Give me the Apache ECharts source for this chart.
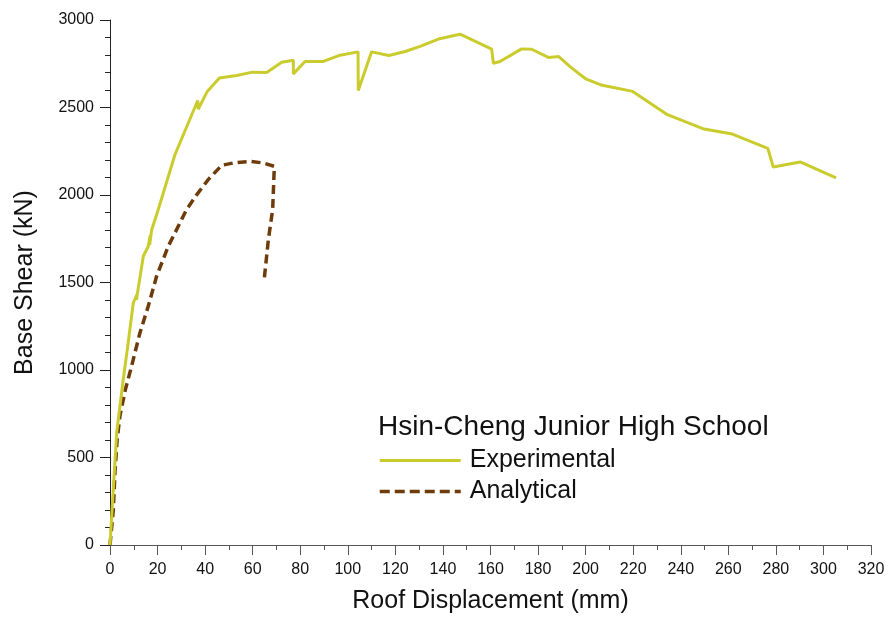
<!DOCTYPE html>
<html>
<head>
<meta charset="utf-8">
<script src="https://cdn.jsdelivr.net/npm/echarts@6/dist/echarts.min.js"></script>
<style>html,body{margin:0;padding:0;background:#fff}#c{width:890px;height:619px}</style>
</head>
<body>
<div id="c"></div>
<script>
const chartTitle = 'Hsin-Cheng Junior High School';
const seriesNames = ['Experimental', 'Analytical'];
const xTickValues = [0,20,40,60,80,100,120,140,160,180,200,220,240,260,280,300,320];
const yTickValues = [0,500,1000,1500,2000,2500,3000];
// [roof displacement (mm), base shear (kN)]
const experimental = [
  [0,0],[2.8,640],[5.6,950],[7.4,1130],[9.8,1384],[11.3,1430],[11.1,1400],[14.0,1650],
  [16.1,1707],[16.9,1770],[16.7,1715],[17.5,1800],[20.3,1917],[27.3,2230],[36.9,2540],
  [37.1,2490],[40.9,2592],[46,2668],[53.3,2683],[59.9,2702],[65.9,2700],[72.2,2759],
  [77.1,2770],[77.1,2692],[82,2763],[89.7,2763],[96.2,2797],[104.3,2818],[104.4,2597],
  [110,2818],[117.3,2797],[124.1,2820],[130.4,2849],[138.1,2891],[147.2,2919],[160.5,2833],
  [161.2,2753],[164,2763],[173.1,2835],[177.3,2833],[184.3,2786],[188.7,2791],[193.8,2729],
  [200,2664],[207,2627],[219.8,2592],[234.4,2459],[249.8,2377],[261.7,2348],[276.6,2266],
  [278.9,2160],[290.2,2189],[305.3,2098]
];
const analytical = [
  [0,0],[1.4,200],[2.1,420],[3,600],[4.2,740],[6.5,890],[9.1,1023],[12.6,1213],[16.1,1365],
  [19.6,1536],[24.5,1707],[29.4,1840],[32.2,1917],[36.5,2002],[41.3,2088],[47,2170],
  [51.9,2183],[58.9,2192],[64.5,2183],[69.1,2164],[68.4,1917],[66.6,1746],[64.8,1512]
];

const FONT = '"Liberation Sans", Arial, sans-serif';
const chart = echarts.init(document.getElementById('c'), null, {renderer:'canvas'});
chart.setOption({
  animation:false,
  backgroundColor:'#fff',
  textStyle:{fontFamily:FONT},
  title:{text:chartTitle, left:378, top:413, padding:0,
    textStyle:{fontSize:28, fontWeight:'normal', color:'#111', fontFamily:FONT}},
  legend:{orient:'vertical', left:378, top:445, padding:0, itemWidth:81, itemHeight:14, itemGap:0,
    itemStyle:{opacity:0},
    textStyle:{fontSize:25, lineHeight:31, color:'#111', padding:[0,0,0,4], fontFamily:FONT},
    data:[
      {name:seriesNames[0], lineStyle:{width:3}},
      {name:seriesNames[1], lineStyle:{width:3.5, type:[10,5]}}
    ]},
  grid:{left:110, right:19, top:20, bottom:73, containLabel:false},
  xAxis:{type:'value', min:xTickValues[0], max:xTickValues[xTickValues.length-1], interval:20,
    name:'Roof Displacement (mm)', nameLocation:'middle', nameGap:44,
    nameTextStyle:{fontSize:25, color:'#111', fontFamily:FONT},
    axisLine:{show:true, onZero:false, lineStyle:{color:'#555', width:1}},
    axisTick:{show:true, length:10, lineStyle:{color:'#555'}},
    minorTick:{show:true, splitNumber:2, length:5, lineStyle:{color:'#555'}},
    axisLabel:{fontSize:16, color:'#111', margin:17, fontFamily:FONT, showMinLabel:true, showMaxLabel:true,
      formatter:v => String(v)},
    splitLine:{show:false}},
  yAxis:{type:'value', min:yTickValues[0], max:yTickValues[yTickValues.length-1], interval:500,
    name:'Base Shear (kN)', nameLocation:'middle', nameGap:72,
    nameTextStyle:{fontSize:25, color:'#111', fontFamily:FONT},
    axisLine:{show:true, onZero:false, lineStyle:{color:'#222', width:1}},
    axisTick:{show:true, length:10, lineStyle:{color:'#222'}},
    minorTick:{show:true, splitNumber:5, length:5, lineStyle:{color:'#222'}},
    axisLabel:{fontSize:16, color:'#111', margin:16, fontFamily:FONT, formatter:v => String(v)},
    splitLine:{show:false}},
  series:[
    {name:seriesNames[0], type:'line', data:experimental, symbol:'none', z:3,
      lineStyle:{color:'#CACC2E', width:3}, itemStyle:{color:'#CACC2E'}},
    {name:seriesNames[1], type:'line', data:analytical, symbol:'none', z:2,
      lineStyle:{color:'#6E3B0B', width:3.5, type:[9,5]}, itemStyle:{color:'#6E3B0B'}}
  ]
});
</script>
</body>
</html>
